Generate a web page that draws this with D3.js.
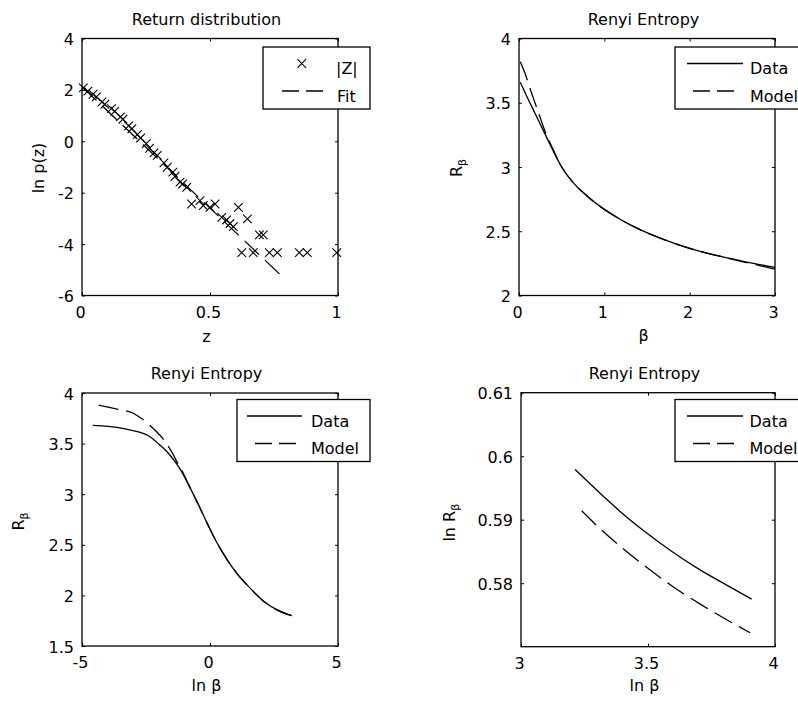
<!DOCTYPE html>
<html>
<head>
<meta charset="utf-8">
<script src="https://cdn.jsdelivr.net/npm/d3@7"></script>
<style>
  html, body { margin: 0; padding: 0; background: #fff; }
  svg { display: block; }
  text { font-family: "DejaVu Sans", sans-serif; font-size: 16px; fill: #000; }
</style>
</head>
<body>
<svg id="fig" width="798" height="702"></svg>
<script>
// ---------- Return distribution: ln p(z) against |Z| ----------
const zPoints   = [0.005, 0.023, 0.043, 0.056, 0.078, 0.089, 0.115, 0.128, 0.150, 0.160,
                   0.182, 0.195, 0.216, 0.229, 0.251, 0.264, 0.281, 0.294, 0.320, 0.333,
                   0.355, 0.363, 0.383, 0.393, 0.409, 0.428, 0.461, 0.474, 0.500, 0.520,
                   0.546, 0.565, 0.578, 0.591, 0.611, 0.646, 0.693, 0.708, 0.624, 0.669,
                   0.732, 0.763, 0.849, 0.880, 0.995];
const lnpPoints = [2.08, 1.95, 1.83, 1.73, 1.53, 1.44, 1.27, 1.17, 0.95, 0.86,
                   0.60, 0.49, 0.26, 0.13, -0.09, -0.27, -0.45, -0.55, -0.84, -1.01,
                   -1.20, -1.37, -1.59, -1.66, -1.79, -2.44, -2.31, -2.50, -2.57, -2.44,
                   -2.96, -3.06, -3.20, -3.32, -2.57, -3.02, -3.64, -3.64, -4.33, -4.33,
                   -4.33, -4.33, -4.33, -4.33, -4.33];
const fitZ   = [0.0, 0.784];
const fitLnp = [2.12, -5.28];
const zTicks   = [0, 0.5, 1];
const lnpTicks = [-6, -4, -2, 0, 2, 4];

// ---------- Renyi entropy against beta ----------
const betaVals   = [0.015, 0.07, 0.15, 0.23, 0.31, 0.39, 0.50, 0.64, 0.80, 1.00, 1.20, 1.40, 1.70, 2.00, 2.30, 2.60, 3.00];
const renyiData  = [3.66, 3.58, 3.47, 3.36, 3.25, 3.14, 3.00, 2.875, 2.773, 2.67, 2.588, 2.518, 2.435, 2.367, 2.314, 2.27, 2.218];
const renyiModel = [3.82, 3.73, 3.57, 3.42, 3.27, 3.15, 3.00, 2.875, 2.773, 2.67, 2.588, 2.518, 2.435, 2.367, 2.314, 2.266, 2.205];
const betaTicks  = [0, 1, 2, 3];
const renyiTicks = [2, 2.5, 3, 3.5, 4];

// ---------- Renyi entropy against ln beta ----------
const lnBetaData   = [-4.58, -3.96, -3.31, -2.79, -2.39, -2.00, -1.61, -1.22, -0.83, -0.44, -0.05, 0.26, 0.66, 1.04, 1.56, 2.08, 2.60, 3.19];
const renyiLnData  = [3.68, 3.67, 3.645, 3.615, 3.575, 3.495, 3.40, 3.27, 3.09, 2.89, 2.68, 2.525, 2.357, 2.22, 2.074, 1.945, 1.86, 1.80];
const lnBetaModel  = [-4.35, -3.63, -3.00, -2.66, -2.39, -2.10, -1.81, -1.50, -1.29, -1.05, -0.83, -0.44, -0.05, 0.26, 0.66, 1.04, 1.56, 2.08, 2.60, 3.19];
const renyiLnModel = [3.88, 3.84, 3.80, 3.745, 3.69, 3.62, 3.54, 3.42, 3.32, 3.21, 3.09, 2.89, 2.68, 2.525, 2.357, 2.22, 2.074, 1.945, 1.86, 1.80];
const lnBetaTicks  = [-5, 0, 5];
const renyiLnTicks = [1.5, 2, 2.5, 3, 3.5, 4];

// ---------- ln Renyi entropy against ln beta, large beta ----------
const tailLnBetaData  = [3.213, 3.324, 3.390, 3.482, 3.587, 3.705, 3.810, 3.908];
const tailLnRData     = [0.5979, 0.5937, 0.5913, 0.5883, 0.5852, 0.5821, 0.5797, 0.5775];
const tailLnBetaModel = [3.239, 3.308, 3.406, 3.501, 3.600, 3.698, 3.803, 3.902];
const tailLnRModel    = [0.5914, 0.5887, 0.5853, 0.5823, 0.5794, 0.5769, 0.5744, 0.5722];
const tailXTicks = [3, 3.5, 4];
const tailYTicks = [0.58, 0.59, 0.6, 0.61];

const svg = d3.select("#fig");
const fmt = d => String(d);
const DASH = "20,8";
const LEGEND_DASH = "17,7";
const CROSS = "M-4.3,-4.3L4.3,4.3M-4.3,4.3L4.3,-4.3";
let clipId = 0;

// Draws one boxed axes with inward ticks on all four sides.
function makeAxes(o) {
  const g = svg.append("g").attr("transform", `translate(${o.left},${o.top})`);
  const x = d3.scaleLinear().domain(o.xDomain).range([0, o.w]);
  const y = d3.scaleLinear().domain(o.yDomain).range([o.h, 0]);

  const clean = sel => {
    sel.select(".domain").remove();
    sel.selectAll(".tick line").attr("stroke", "#000").attr("stroke-width", 1);
  };

  g.append("g").attr("transform", `translate(0,${o.h})`)
    .call(d3.axisBottom(x).tickValues(o.xTicks).tickFormat(fmt)
      .tickSizeInner(-3).tickSizeOuter(0).tickPadding(11))
    .call(clean)
    .selectAll("text").attr("dx", "-2");
  g.append("g")
    .call(d3.axisTop(x).tickValues(o.xTicks).tickFormat("")
      .tickSizeInner(-3).tickSizeOuter(0))
    .call(clean);
  g.append("g")
    .call(d3.axisLeft(y).tickValues(o.yTicks).tickFormat(fmt)
      .tickSizeInner(-3).tickSizeOuter(0).tickPadding(8))
    .call(clean)
    .selectAll("text").attr("dy", "0.38em");
  g.append("g").attr("transform", `translate(${o.w},0)`)
    .call(d3.axisRight(y).tickValues(o.yTicks).tickFormat("")
      .tickSizeInner(-3).tickSizeOuter(0))
    .call(clean);

  g.append("rect").attr("width", o.w).attr("height", o.h)
    .attr("fill", "none").attr("stroke", "#000").attr("stroke-width", 1.3);

  const id = "clip" + (clipId++);
  g.append("clipPath").attr("id", id)
    .append("rect").attr("width", o.w).attr("height", o.h);
  const plot = g.append("g").attr("clip-path", `url(#${id})`);

  // title and axis labels
  const cx = o.w / 2 - 3.5;
  g.append("text").attr("x", cx).attr("y", o.titleY).attr("text-anchor", "middle").text(o.title);
  g.append("text").attr("x", cx).attr("y", o.h + o.xLabelDy).attr("text-anchor", "middle").text(o.xLabel);
  const yl = g.append("text")
    .attr("transform", `translate(${o.yLabelX},${o.h / 2 + (o.yLabelShift || 0)}) rotate(-90)`)
    .attr("text-anchor", "middle");
  yl.append("tspan").text(o.yLabel);
  if (o.yLabelSub) {
    yl.append("tspan").style("font-size", "11px").attr("dy", "4").text(o.yLabelSub);
  }
  return { g, plot, x, y };
}

function drawLine(ax, xs, ys, dashed) {
  const line = d3.line().x(i => ax.x(xs[i])).y(i => ax.y(ys[i])).curve(d3.curveMonotoneX);
  ax.plot.append("path")
    .attr("d", line(d3.range(xs.length)))
    .attr("fill", "none").attr("stroke", "#000").attr("stroke-width", 1.3)
    .attr("stroke-dasharray", dashed ? DASH : null);
}

// Legend box in figure coordinates
function legend(x0, y0, w, rows) {
  const lg = svg.append("g");
  lg.append("rect").attr("x", x0).attr("y", y0).attr("width", w).attr("height", 62)
    .attr("fill", "#fff").attr("stroke", "#000").attr("stroke-width", 1.3);
  rows.forEach((r, i) => {
    const ly = y0 + 16.5 + i * 27.5;
    if (r.kind === "marker") {
      lg.append("path").attr("d", CROSS)
        .attr("transform", `translate(${r.x1},${ly})`)
        .attr("stroke", "#000").attr("stroke-width", 1.1).attr("fill", "none");
    } else {
      lg.append("line").attr("x1", r.x1).attr("x2", r.x2).attr("y1", ly).attr("y2", ly)
        .attr("stroke", "#000").attr("stroke-width", 1.3)
        .attr("stroke-dasharray", r.kind === "dash" ? LEGEND_DASH : null);
    }
    lg.append("text").attr("x", r.tx).attr("y", ly + 10.5).text(r.label);
  });
}

// ---- Panel: return distribution ----
const a1 = makeAxes({
  left: 82, top: 38.5, w: 256, h: 257,
  xDomain: [0, 1], yDomain: [-6, 4], xTicks: zTicks, yTicks: lnpTicks,
  title: "Return distribution", titleY: -13.5, xLabel: "z", xLabelDy: 46.5,
  yLabel: "ln p(z)", yLabelX: -38, yLabelShift: 1
});
drawLine(a1, fitZ, fitLnp, true);
a1.g.append("g").selectAll("path").data(d3.range(zPoints.length)).join("path")
  .attr("d", CROSS)
  .attr("transform", i => `translate(${a1.x(zPoints[i])},${a1.y(lnpPoints[i])})`)
  .attr("stroke", "#000").attr("stroke-width", 1.1).attr("fill", "none");
legend(263, 47, 107, [
  { kind: "marker", x1: 301.7, tx: 336, label: "|Z|" },
  { kind: "dash", x1: 282, x2: 325, tx: 337, label: "Fit" }
]);

// ---- Panel: Renyi entropy vs beta ----
const a2 = makeAxes({
  left: 519, top: 38.5, w: 256, h: 257,
  xDomain: [0, 3], yDomain: [2, 4], xTicks: betaTicks, yTicks: renyiTicks,
  title: "Renyi Entropy", titleY: -14, xLabel: "β", xLabelDy: 45,
  yLabel: "R", yLabelSub: "β", yLabelX: -57, yLabelShift: 1
});
drawLine(a2, betaVals, renyiData, false);
drawLine(a2, betaVals, renyiModel, true);
legend(675, 47, 140, [
  { kind: "solid", x1: 687, x2: 743, tx: 750, label: "Data" },
  { kind: "dash", x1: 693, x2: 735, tx: 750, label: "Model" }
]);

// ---- Panel: Renyi entropy vs ln beta ----
const a3 = makeAxes({
  left: 82, top: 393, w: 256, h: 253,
  xDomain: [-5, 5], yDomain: [1.5, 4], xTicks: lnBetaTicks, yTicks: renyiLnTicks,
  title: "Renyi Entropy", titleY: -14, xLabel: "ln β", xLabelDy: 44.5,
  yLabel: "R", yLabelSub: "β", yLabelX: -58, yLabelShift: 2
});
drawLine(a3, lnBetaData, renyiLnData, false);
drawLine(a3, lnBetaModel, renyiLnModel, true);
legend(237, 399.5, 133, [
  { kind: "solid", x1: 247, x2: 302, tx: 311, label: "Data" },
  { kind: "dash", x1: 255, x2: 297, tx: 311, label: "Model" }
]);

// ---- Panel: ln Renyi entropy vs ln beta ----
const a4 = makeAxes({
  left: 521, top: 392.7, w: 254, h: 254,
  xDomain: [3, 4], yDomain: [0.57, 0.61], xTicks: tailXTicks, yTicks: tailYTicks,
  title: "Renyi Entropy", titleY: -13.7, xLabel: "ln β", xLabelDy: 44,
  yLabel: "ln R", yLabelSub: "β", yLabelX: -66, yLabelShift: 3
});
drawLine(a4, tailLnBetaData, tailLnRData, false);
drawLine(a4, tailLnBetaModel, tailLnRModel, true);
legend(675, 399.5, 140, [
  { kind: "solid", x1: 687, x2: 743, tx: 749.5, label: "Data" },
  { kind: "dash", x1: 693, x2: 735, tx: 749.5, label: "Model" }
]);
</script>
</body>
</html>
